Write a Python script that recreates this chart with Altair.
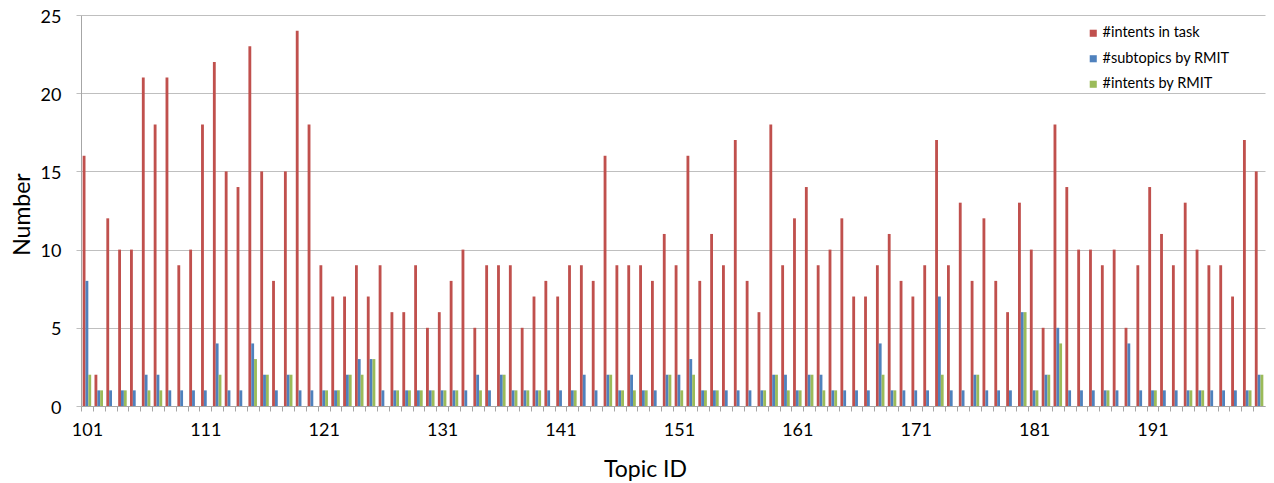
import altair as alt
import pandas as pd

topics = list(range(101, 201))

intents_task = [
    16, 2, 12, 10, 10, 21, 18, 21, 9, 10,
    18, 22, 15, 14, 23, 15, 8, 15, 24, 18,
    9, 7, 7, 9, 7, 9, 6, 6, 9, 5,
    6, 8, 10, 5, 9, 9, 9, 5, 7, 8,
    7, 9, 9, 8, 16, 9, 9, 9, 8, 11,
    9, 16, 8, 11, 9, 17, 8, 6, 18, 9,
    12, 14, 9, 10, 12, 7, 7, 9, 11, 8,
    7, 9, 17, 9, 13, 8, 12, 8, 6, 13,
    10, 5, 18, 14, 10, 10, 9, 10, 5, 9,
    14, 11, 9, 13, 10, 9, 9, 7, 17, 15,
]

subtopics_rmit = [
    8, 1, 1, 1, 1, 2, 2, 1, 1, 1,
    1, 4, 1, 1, 4, 2, 1, 2, 1, 1,
    1, 1, 2, 3, 3, 1, 1, 1, 1, 1,
    1, 1, 1, 2, 1, 2, 1, 1, 1, 1,
    1, 1, 2, 1, 2, 1, 2, 1, 1, 2,
    2, 3, 1, 1, 1, 1, 1, 1, 2, 2,
    1, 2, 2, 1, 1, 1, 1, 4, 1, 1,
    1, 1, 7, 1, 1, 2, 1, 1, 1, 6,
    1, 2, 5, 1, 1, 1, 1, 1, 4, 1,
    1, 1, 1, 1, 1, 1, 1, 1, 1, 2,
]

intents_rmit = [
    2, 1, 0, 1, 0, 1, 1, 0, 0, 0,
    0, 2, 0, 0, 3, 2, 0, 2, 0, 0,
    1, 1, 2, 2, 3, 0, 1, 1, 1, 1,
    1, 1, 0, 1, 0, 2, 1, 1, 1, 0,
    0, 1, 0, 0, 2, 1, 1, 1, 0, 2,
    1, 2, 1, 1, 0, 0, 0, 1, 2, 1,
    1, 2, 1, 1, 0, 0, 0, 2, 1, 0,
    0, 0, 2, 0, 0, 2, 0, 0, 0, 6,
    1, 2, 4, 0, 0, 0, 1, 0, 0, 0,
    1, 0, 0, 1, 1, 0, 0, 0, 1, 2,
]

series_names = ["#intents in task", "#subtopics by RMIT", "#intents by RMIT"]
series_colors = ["#C0504D", "#4F81BD", "#9BBB59"]
y_ticks = [0, 5, 10, 15, 20, 25]

rows = []
for name, vals in zip(series_names, [intents_task, subtopics_rmit, intents_rmit]):
    for t, v in zip(topics, vals):
        rows.append({"topic": t, "series": name, "value": v})
df = pd.DataFrame(rows)

W, H = 1184, 391
step = W / len(topics)
FONT = "Lato"

chart = alt.Chart(df).mark_bar().encode(
    x=alt.X(
        "topic:O",
        title="Topic ID",
        scale=alt.Scale(paddingInner=0.28, paddingOuter=0.14),
        axis=alt.Axis(
            labelAngle=0,
            labelExpr="(datum.value - 101) % 10 == 0 ? datum.label : ''",
            labelOverlap=False,
            labelFlush=False,
            tickOffset=-step / 2,
            labelOffset=step / 2,
            tickSize=5,
            tickColor="#a6a6a6",
            domainColor="#a6a6a6",
            labelBaseline="alphabetic",
            labelPadding=24,
            labelFontSize=18,
            labelFont=FONT,
            labelColor="#000000",
            titleFont=FONT,
            titleFontSize=23,
            titleFontWeight="normal",
            titleColor="#000000",
            titleX=564,
            titleY=70,
            titleAlign="center",
            titleBaseline="alphabetic",
            grid=False,
        ),
    ),
    xOffset=alt.XOffset("series:N", sort=series_names,
                        scale=alt.Scale(paddingInner=0, paddingOuter=0)),
    y=alt.Y(
        "value:Q",
        title="Number",
        scale=alt.Scale(domain=[0, 25], nice=False),
        axis=alt.Axis(
            values=y_ticks,
            tickSize=5,
            tickColor="#bfbfbf",
            domainColor="#a6a6a6",
            gridColor="#bfbfbf",
            labelPadding=15,
            labelFontSize=18,
            labelOffset=2,
            labelFont=FONT,
            labelColor="#000000",
            titleFont=FONT,
            titleFontSize=23,
            titleFontWeight="normal",
            titleColor="#000000",
            titleX=-52,
            titleY=199,
            titleAlign="center",
            titleBaseline="alphabetic",
        ),
    ),
    color=alt.Color(
        "series:N",
        sort=series_names,
        scale=alt.Scale(domain=series_names, range=series_colors),
        legend=alt.Legend(
            title=None,
            orient="none",
            legendX=1005,
            legendY=11,
            symbolType="square",
            symbolSize=50,
            symbolStrokeWidth=0,
            labelFont=FONT,
            labelFontSize=14.5,
            labelColor="#000000",
            labelOffset=2,
            rowPadding=10.5,
            padding=0,
        ),
    ),
).properties(
    width=W,
    height=H,
    autosize=alt.AutoSizeParams(type="none"),
    padding={"left": 73, "top": 7, "right": 1, "bottom": 77},
).configure_view(stroke=None)

chart.save("out.html", embed_options={"renderer": "svg", "actions": False})
